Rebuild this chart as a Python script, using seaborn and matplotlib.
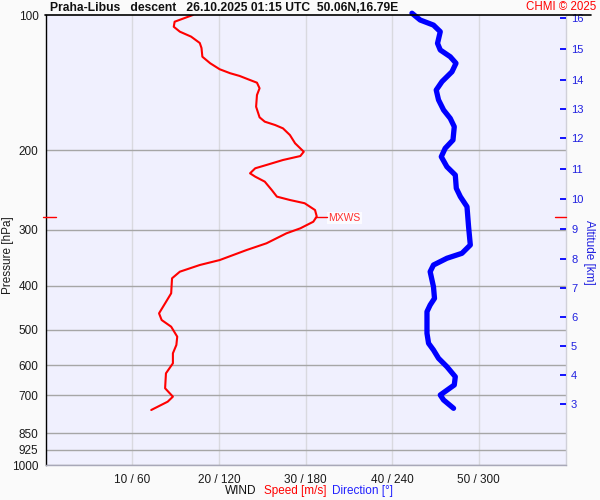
import matplotlib
matplotlib.use('Agg')
import matplotlib.pyplot as plt
from matplotlib.lines import Line2D
from matplotlib.ticker import NullLocator, FixedLocator, FixedFormatter
import numpy as np
import pandas as pd
import seaborn as sns

# ---- data ----
speed_p = [100.0, 103.5, 106.2, 108.9, 111.7, 115.4, 118.4, 123.8, 128.0, 132.0,
           134.7, 136.6, 139.0, 141.4, 145.5, 150.6, 159.9, 168.8, 172.6, 175.6,
           178.6, 184.8, 192.8, 201.3, 205.8, 210.0, 215.4, 219.1, 224.8, 228.7,
           234.6, 244.8, 253.3, 257.7, 262.0, 271.3, 280.4, 288.0, 297.9, 305.6,
           321.6, 332.9, 350.4, 359.4, 371.9, 384.7, 415.4, 437.3, 460.2, 476.2,
           492.8, 518.6, 541.1, 564.6, 594.3, 625.5, 675.3, 704.9, 723.2, 754.7]
speed = [17.0, 14.9, 14.8, 15.5, 16.8, 17.8, 18.0, 18.1, 19.0, 20.1,
         21.3, 22.4, 23.4, 24.4, 24.7, 24.4, 24.3, 24.7, 25.3, 26.5,
         27.4, 28.2, 28.8, 29.8, 29.4, 27.4, 25.5, 24.2, 23.6, 24.2,
         25.3, 26.1, 26.7, 28.2, 29.9, 31.1, 31.3, 30.9, 29.4, 27.8,
         25.5, 23.2, 20.1, 17.8, 15.5, 14.6, 14.5, 13.8, 13.1, 13.4,
         14.5, 15.2, 15.1, 14.7, 14.7, 13.9, 13.8, 14.7, 14.1, 12.2]

dir_p = [99.1, 102.6, 105.3, 108.9, 115.6, 119.6, 123.8, 128.0, 133.7, 140.6,
         146.8, 154.4, 162.6, 169.7, 177.1, 189.6, 197.8, 206.5, 217.4, 226.8,
         242.7, 253.3, 266.7, 295.4, 324.4, 338.5, 347.2, 359.4, 371.9, 401.7,
         426.3, 441.0, 456.3, 509.7, 536.5, 555.2, 579.3, 604.7, 636.6, 664.0,
         698.9, 717.0, 748.2]
direction = [253.7, 259.4, 268.6, 273.3, 271.4, 273.3, 280.2, 284.2, 281.4, 274.5,
             270.5, 272.1, 275.6, 280.2, 283.0, 282.1, 276.7, 274.0, 277.9, 283.7,
             284.4, 287.2, 291.8, 292.9, 294.1, 288.3, 277.9, 268.6, 266.3, 268.6,
             269.3, 266.3, 264.1, 264.1, 265.2, 268.6, 272.1, 277.9, 283.7, 283.0,
             273.3, 275.6, 282.5]

p_ticks = [100, 200, 300, 400, 500, 600, 700, 850, 925, 1000]
x_ticks = [10, 20, 30, 40, 50]
x_labels = ['10 / 60', '20 / 120', '30 / 180', '40 / 240', '50 / 300']
alt_km = [3, 4, 5, 6, 7, 8, 9, 10, 11, 12, 13, 14, 15, 16]
alt_p = [731.8, 631.0, 543.9, 469.0, 404.4, 348.6, 299.0, 256.4, 219.9,
         187.7, 161.5, 139.3, 119.0, 101.7]
mxws_speed = 31.3
mxws_p = 280.4

title = 'Praha-Libus   descent   26.10.2025 01:15 UTC  50.06N,16.79E'

# ---- style ----
sns.set_theme(style='white')
plt.rcParams['font.family'] = ['Liberation Sans', 'DejaVu Sans']

fig = plt.figure(figsize=(6, 5), dpi=100, facecolor='#fafafa')
ax = fig.add_axes([45.5 / 600, 35 / 500, 520 / 600, 450 / 500])
ax.set_facecolor('#f0f0fe')

# speed curve
df_s = pd.DataFrame({'speed': speed, 'p': speed_p})
sns.lineplot(data=df_s, x='speed', y='p', sort=False, estimator=None,
             color='#ff0000', lw=1.5, ax=ax, zorder=3)
ax.set_xlabel('')
ax.set_ylabel('')

# direction curve on twin x axis (0-360)
ax2 = ax.twiny()
df_d = pd.DataFrame({'dir': direction, 'p': dir_p})
sns.lineplot(data=df_d, x='dir', y='p', sort=False, estimator=None,
             color='#0000ff', lw=3.8, ax=ax2, zorder=3,
             solid_capstyle='round', solid_joinstyle='round', clip_on=False)
ax2.set_xlim(0, 360)
ax2.set_xlabel('')
ax2.set_ylabel('')
ax2.tick_params(axis='x', top=False, labeltop=False, bottom=False,
                labelbottom=False, length=0)
for s in ax2.spines.values():
    s.set_visible(False)

# altitude axis
ax3 = ax.twinx()
ax3.set_yscale('log')
ax3.set_ylim(1000, 100)
ax3.yaxis.set_minor_locator(NullLocator())
ax3.yaxis.set_major_locator(FixedLocator(alt_p))
ax3.yaxis.set_major_formatter(FixedFormatter([str(k) for k in alt_km]))
ax3.tick_params(axis='y', direction='in', length=4, width=1.3, color='#0000ff',
                labelcolor='#2020e0', labelsize=8, pad=4)
ax3.tick_params(axis='x', bottom=False, labelbottom=False, top=False,
                labeltop=False)
ax3.grid(False)
for s in ax3.spines.values():
    s.set_visible(False)

# main axis scales and ticks (set last)
ax.set_yscale('log')
ax.set_ylim(1000, 100)
ax.set_xlim(0, 60)
ax.yaxis.set_minor_locator(NullLocator())
ax.yaxis.set_major_locator(FixedLocator(p_ticks))
ax.yaxis.set_major_formatter(FixedFormatter([str(v) for v in p_ticks]))
ax.xaxis.set_minor_locator(NullLocator())
ax.xaxis.set_major_locator(FixedLocator(x_ticks))
ax.xaxis.set_major_formatter(FixedFormatter(x_labels))
ax.tick_params(axis='both', length=0, labelsize=8.5, colors='#1a1a1a')
ax.tick_params(axis='x', pad=6.5)
ax.tick_params(axis='y', pad=5)

ax.grid(False)
for p in p_ticks[1:]:
    ax.axhline(p, color='#a6a6a6', lw=1.0, zorder=0.5)
for x in x_ticks:
    ax.axvline(x, color='#d9d9df', lw=1.0, zorder=0.4)

ax.spines['left'].set_color('black')
ax.spines['left'].set_linewidth(1.0)
ax.spines['top'].set_visible(False)
ax.spines['bottom'].set_color('#a8a8b8')
ax.spines['bottom'].set_linewidth(1.0)
ax.spines['right'].set_color('#d0d0d8')
ax.spines['right'].set_linewidth(1.0)

# top black line spanning beyond axes
fig.add_artist(Line2D([45 / 600, 591 / 600], [1 - 15 / 500, 1 - 15 / 500],
                      color='black', lw=1.2))

# MXWS markers
ax.plot([mxws_speed - 0.2, mxws_speed + 1.2], [mxws_p, mxws_p], color='#ff0000',
        lw=1.0, zorder=4)
ax.annotate('MXWS', xy=(mxws_speed, mxws_p), xytext=(8.5, -1),
            textcoords='offset points', color='#ff3030', fontsize=7.5,
            va='center', ha='left',
            bbox=dict(boxstyle='square,pad=0.12', fc='#fbfbff', ec='none'))
ytr = ax.get_yaxis_transform()
ax.plot([-0.004, 0.021], [mxws_p, mxws_p], transform=ytr, color='#ff0000',
        lw=1.0, clip_on=False, zorder=5)
ax.plot([0.98, 1.0], [mxws_p, mxws_p], transform=ytr, color='#ff0000',
        lw=1.0, clip_on=False, zorder=5)

# texts
fig.text(50 / 600, 1 - 8.3 / 500, title, fontsize=8.7, fontweight='bold',
         va='center', ha='left', color='#111111')
fig.text(596 / 600, 1 - 7 / 500, 'CHMI © 2025', fontsize=8.3, color='#ff0000',
         va='center', ha='right')
fig.text(8 / 600, 1 - 255 / 500, 'Pressure [hPa]', rotation=90, fontsize=8.5,
         va='center', ha='center', color='#1a1a1a')
fig.text(589 / 600, 1 - 252 / 500, 'Altitude [km]', rotation=270, fontsize=8.5,
         va='center', ha='center', color='#2020e0')
fig.text(225 / 600, 1 - 491 / 500, 'WIND', fontsize=8.5, va='center', ha='left',
         color='#111111')
fig.text(264 / 600, 1 - 491 / 500, 'Speed [m/s]', fontsize=8.5, va='center',
         ha='left', color='#ff0000')
fig.text(332 / 600, 1 - 491 / 500, 'Direction [°]', fontsize=8.5, va='center',
         ha='left', color='#2020ff')

fig.savefig('out.png', dpi=100, facecolor=fig.get_facecolor())
